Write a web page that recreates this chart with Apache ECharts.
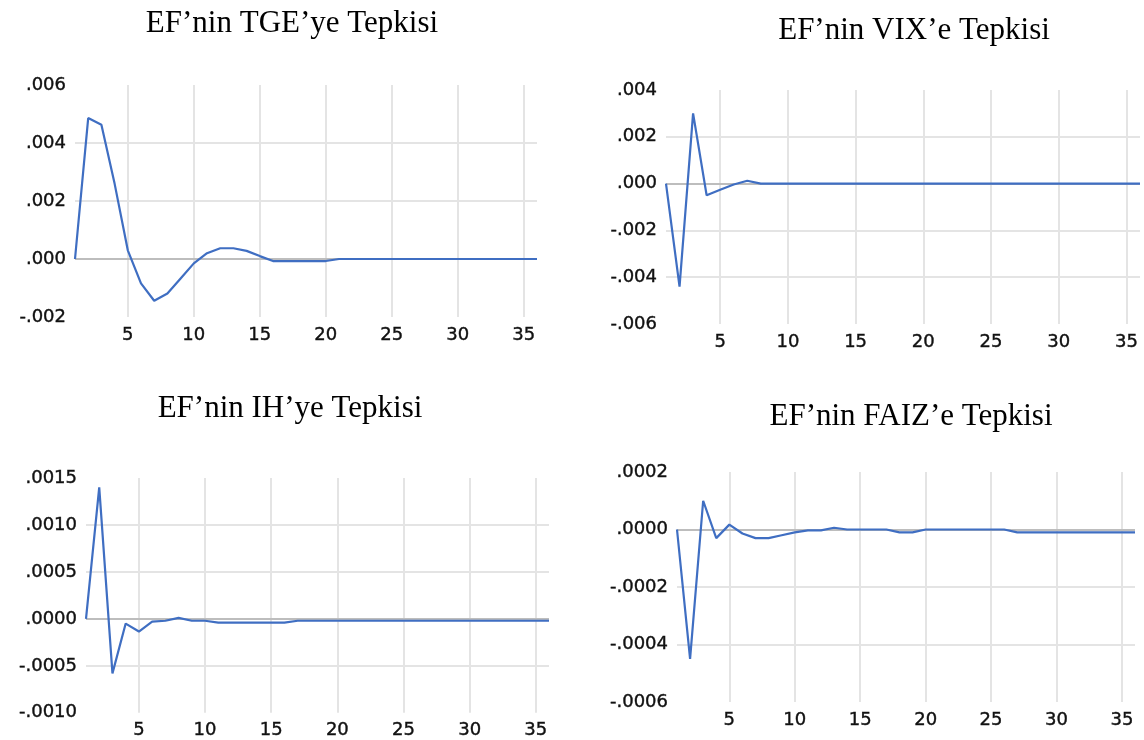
<!DOCTYPE html>
<html>
<head>
<meta charset="utf-8">
<script src="https://cdn.jsdelivr.net/npm/echarts@6/dist/echarts.min.js"></script>
<style>
html,body{margin:0;padding:0;background:#ffffff;}
#chart{width:1144px;height:740px;}
</style>
</head>
<body>
<div id="chart"></div>
<script>
// ---------- data ----------
const periods = [1,2,3,4,5,6,7,8,9,10,11,12,13,14,15,16,17,18,19,20,21,22,23,24,25,26,27,28,29,30,31,32,33,34,35,36];
const xTickLabels = ['5','10','15','20','25','30','35'];

const panelTitles = ['EF\u2019nin TGE\u2019ye Tepkisi', 'EF\u2019nin VIX\u2019e Tepkisi', 'EF\u2019nin IH\u2019ye Tepkisi', 'EF\u2019nin FAIZ\u2019e Tepkisi'];

const tgeResponse = [0, 0.00486, 0.00463, 0.0026, 0.0003, -0.00084, -0.00144, -0.00119, -0.00067, -0.00015,
  0.0002, 0.00037, 0.00037, 0.00028, 0.0001, -0.00007, -0.00007, -0.00007, -0.00007, -0.00007,
  0, 0, 0, 0, 0, 0, 0, 0, 0, 0, 0, 0, 0, 0, 0, 0];

const vixResponse = [0, -0.0044, 0.003, -0.0005, -0.00026, -0.00004, 0.00012, 0, 0, 0,
  0, 0, 0, 0, 0, 0, 0, 0, 0, 0, 0, 0, 0, 0, 0, 0, 0, 0, 0, 0, 0, 0, 0, 0, 0, 0];

const ihResponse = [0, 0.0014, -0.00058, -0.00005, -0.000135, -0.00003, -0.00002, 0.00001, -0.00002, -0.00002,
  -0.00004, -0.00004, -0.00004, -0.00004, -0.00004, -0.00004, -0.00002, -0.00002, -0.00002, -0.00002,
  -0.00002, -0.00002, -0.00002, -0.00002, -0.00002, -0.00002, -0.00002, -0.00002, -0.00002, -0.00002,
  -0.00002, -0.00002, -0.00002, -0.00002, -0.00002, -0.00002];

const faizResponse = [0, -0.00045, 0.0001, -0.00003, 0.000017, -0.000014, -0.00003, -0.00003, -0.00002, -0.00001,
  -0.000003, -0.000003, 0.000006, 0, 0, 0, 0, -0.00001, -0.00001, 0,
  0, 0, 0, 0, 0, 0, -0.00001, -0.00001, -0.00001, -0.00001, -0.00001, -0.00001, -0.00001, -0.00001, -0.00001, -0.00001];

const yTickLabelsTGE = ['-.002', '.000', '.002', '.004', '.006'];
const yTickLabelsVIX = ['-.006', '-.004', '-.002', '.000', '.002', '.004'];
const yTickLabelsIH = ['-.0010', '-.0005', '.0000', '.0005', '.0010', '.0015'];
const yTickLabelsFAIZ = ['-.0006', '-.0004', '-.0002', '.0000', '.0002'];

// ---------- layout / style ----------
const panels = [
  {data: tgeResponse,  min: -0.002,  max: 0.006,  interval: 0.002,  dec: 3,
   grid: {left: 75,  top: 85,  width: 462, height: 232}, title: [292, 24]},
  {data: vixResponse,  min: -0.006,  max: 0.004,  interval: 0.002,  dec: 3,
   grid: {left: 666, top: 90,  width: 474, height: 234}, title: [914, 31]},
  {data: ihResponse,   min: -0.001,  max: 0.0015, interval: 0.0005, dec: 4,
   grid: {left: 86,  top: 478, width: 463, height: 235}, title: [290, 409]},
  {data: faizResponse, min: -0.0006, max: 0.0002, interval: 0.0002, dec: 4,
   grid: {left: 677, top: 472, width: 458, height: 230}, title: [911, 417]}
];

function fmt(v, d) {
  let s = (Math.abs(v) < 1e-12 ? 0 : v).toFixed(d);
  return s.replace(/^(-?)0\./, '$1.');
}

const labelFont = {fontFamily: '"DejaVu Sans", Verdana, sans-serif', fontSize: 18, color: '#111111',
  textBorderColor: '#111111', textBorderWidth: 0.4};
const lineColor = '#3f6ec2';

const chart = echarts.init(document.getElementById('chart'), null, {renderer: 'canvas'});

const option = {
  animation: false,
  backgroundColor: '#ffffff',
  grid: panels.map(p => Object.assign({containLabel: false}, p.grid)),
  xAxis: panels.map((p, i) => ({
    type: 'category',
    gridIndex: i,
    data: periods,
    boundaryGap: false,
    axisLine: {show: false},
    axisTick: {show: false},
    axisLabel: Object.assign({
      interval: (idx, val) => xTickLabels.indexOf(String(val)) >= 0,
      margin: 9
    }, labelFont),
    splitLine: {
      show: true,
      interval: (idx, val) => xTickLabels.indexOf(String(val)) >= 0,
      lineStyle: {color: '#e4e4e4', width: 2}
    }
  })),
  yAxis: panels.map((p, i) => ({
    type: 'value',
    gridIndex: i,
    min: p.min,
    max: p.max,
    interval: p.interval,
    axisLine: {show: false},
    axisTick: {show: false},
    axisLabel: Object.assign({
      margin: 9,
      padding: [0, 0, 5, 0],
      formatter: v => fmt(v, p.dec)
    }, labelFont),
    splitLine: {
      show: true,
      showMinLine: false,
      showMaxLine: false,
      lineStyle: {color: '#e4e4e4', width: 2}
    }
  })),
  series: panels.map((p, i) => ({
    type: 'line',
    xAxisIndex: i,
    yAxisIndex: i,
    data: p.data,
    showSymbol: false,
    symbol: 'none',
    z: 10,
    lineStyle: {color: lineColor, width: 2.2},
    markLine: {
      silent: true,
      z: 1,
      symbol: ['none', 'none'],
      label: {show: false},
      lineStyle: {color: '#bdbdbd', type: 'solid', width: 2},
      data: [{yAxis: 0}]
    }
  })),
  graphic: panels.map((p, i) => ({
    type: 'text',
    x: p.title[0],
    y: p.title[1],
    style: {
      text: panelTitles[i],
      fontFamily: '"Liberation Serif", "Times New Roman", serif',
      fontSize: 31,
      fill: '#000000',
      align: 'center',
      verticalAlign: 'middle',
      textAlign: 'center',
      textVerticalAlign: 'middle'
    }
  }))
};

chart.setOption(option);
</script>
</body>
</html>
